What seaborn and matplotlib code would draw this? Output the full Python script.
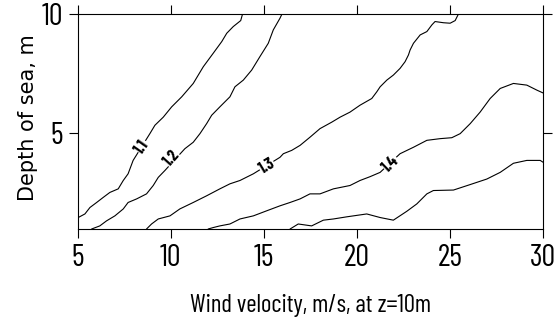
import matplotlib
matplotlib.use("Agg")
import matplotlib.pyplot as plt
import seaborn as sns
from matplotlib import font_manager

# contour lines (wind velocity, depth)
c11_x = [5.02, 5.38, 5.65, 6.01, 6.36, 6.72, 7.17, 7.44, 7.70, 7.97, 8.87, 9.14, 9.59, 10.04,
         10.58, 11.2, 11.74, 12.27, 12.73, 13.0, 13.35, 13.75, 13.85]
c11_y = [1.48, 1.63, 1.90, 2.11, 2.32, 2.53, 2.68, 3.03, 3.31, 3.87, 4.99, 5.34, 5.68, 6.11,
         6.53, 7.09, 7.79, 8.35, 8.84, 9.19, 9.47, 9.72, 10.0]

c12_x = [5.74, 6.18, 6.54, 6.99, 7.44, 7.70, 8.16, 8.69, 9.05, 9.32, 9.68, 10.75, 11.2, 11.56,
         11.92, 12.19, 12.63, 13.17, 13.44, 13.89, 14.34, 14.78, 15.23, 15.5, 15.86, 15.97]
c12_y = [1.0, 1.13, 1.34, 1.55, 1.84, 2.11, 2.26, 2.47, 2.82, 3.16, 3.45, 4.36, 4.63, 4.99,
         5.41, 5.76, 6.11, 6.53, 6.95, 7.23, 7.65, 8.21, 8.77, 9.33, 9.82, 10.0]

c13_x = [8.69, 8.96, 9.32, 9.95, 10.48, 11.2, 11.92, 12.63, 13.17, 13.71, 14.43, 15.86, 16.04,
         16.49, 16.94, 17.47, 18.01, 18.64, 19.09, 19.62, 20.16, 20.79, 21.06, 21.24, 21.6,
         21.95, 22.31, 22.58, 22.76, 22.85, 23.03, 23.39, 23.75, 24.02, 24.19, 24.64, 25.0,
         25.27, 25.45]
c13_y = [1.0, 1.21, 1.42, 1.55, 1.84, 2.11, 2.39, 2.68, 2.89, 3.03, 3.31, 4.0, 4.15,
         4.29, 4.5, 4.84, 5.2, 5.47, 5.68, 5.89, 6.18, 6.46, 6.74, 6.95, 7.23,
         7.44, 7.72, 8.0, 8.28, 8.49, 8.77, 9.12, 9.26, 9.54, 9.68, 9.63, 9.61,
         9.72, 10.0]

c14_x = [12.0, 12.27, 12.63, 13.17, 13.71, 14.43, 15.14, 15.86, 16.4, 16.94, 17.47, 18.01,
         18.73, 19.62, 20.16, 20.7, 21.24, 22.31, 23.03, 23.75, 24.46, 25.09, 25.54, 26.08,
         26.61, 27.15, 27.69, 28.4, 29.12, 29.66, 30.0]
c14_y = [1.0, 1.06, 1.13, 1.21, 1.42, 1.55, 1.76, 1.97, 2.11, 2.26, 2.47, 2.47,
         2.68, 2.82, 3.03, 3.19, 3.37, 4.15, 4.42, 4.71, 4.78, 4.82, 4.99, 5.41,
         5.89, 6.46, 6.88, 7.09, 7.02, 6.81, 6.69]

c15_x = [16.4, 16.84, 17.56, 18.19, 18.73, 19.45, 20.52, 21.24, 21.95, 22.67, 23.21, 23.75,
         24.1, 25.18, 26.08, 26.97, 27.69, 28.4, 29.12, 29.84, 30.0]
c15_y = [1.0, 1.21, 1.13, 1.37, 1.42, 1.51, 1.63, 1.48, 1.37, 1.74, 2.05, 2.47,
         2.61, 2.63, 2.86, 3.09, 3.37, 3.75, 3.87, 3.87, 3.79]

# contour labels
lab_text = ["1.1", "1.2", "1.3", "1.4"]
lab_x = [8.44, 10.05, 15.16, 21.83]
lab_y = [4.45, 3.95, 3.63, 3.72]
lab_rot = [55, 48, 31, 44]

xticks = [5, 10, 15, 20, 25, 30]
yticks = [5, 10]

sns.set_style("ticks")
names = {f.name for f in font_manager.fontManager.ttflist}
narrow = next((n for n in ["Barlow Condensed", "Archivo Narrow", "Asap Condensed"] if n in names),
              "DejaVu Sans")
plt.rcParams['font.family'] = ['DejaVu Sans']
plt.rcParams['text.color'] = 'black'
plt.rcParams['xtick.color'] = 'black'
plt.rcParams['ytick.color'] = 'black'
plt.rcParams['axes.labelcolor'] = 'black'

fig = plt.figure(figsize=(5.6, 3.23), dpi=100)
ax = fig.add_axes([0.139, 0.291, 0.831, 0.666])

for xs, ys in [(c11_x, c11_y), (c12_x, c12_y), (c13_x, c13_y), (c14_x, c14_y), (c15_x, c15_y)]:
    sns.lineplot(x=xs, y=ys, sort=False, estimator=None, color='black', linewidth=0.8, ax=ax)

for t, x, y, r in zip(lab_text, lab_x, lab_y, lab_rot):
    ax.text(x, y, t, rotation=r, ha='center', va='center', fontsize=12, fontweight='bold',
            family=narrow, bbox=dict(facecolor='white', edgecolor='none', pad=0.1))

ax.set_xlim(5, 30)
ax.set_ylim(1, 10)
ax.set_xticks(xticks)
ax.set_yticks(yticks)
ax.tick_params(direction='out', length=6.5, width=0.8, color='black',
               top=True, right=True, labelsize=22, pad=4)
for lbl in ax.get_xticklabels() + ax.get_yticklabels():
    lbl.set_family(narrow)
for s in ax.spines.values():
    s.set_linewidth(0.8)
    s.set_color('black')

ax.set_xlabel("Wind velocity, m/s, at z=10m", fontsize=18, family=narrow, labelpad=16)
ax.set_ylabel("Depth of sea, m", fontsize=15, labelpad=3, y=0.52)

fig.savefig("out.png", dpi=100)
